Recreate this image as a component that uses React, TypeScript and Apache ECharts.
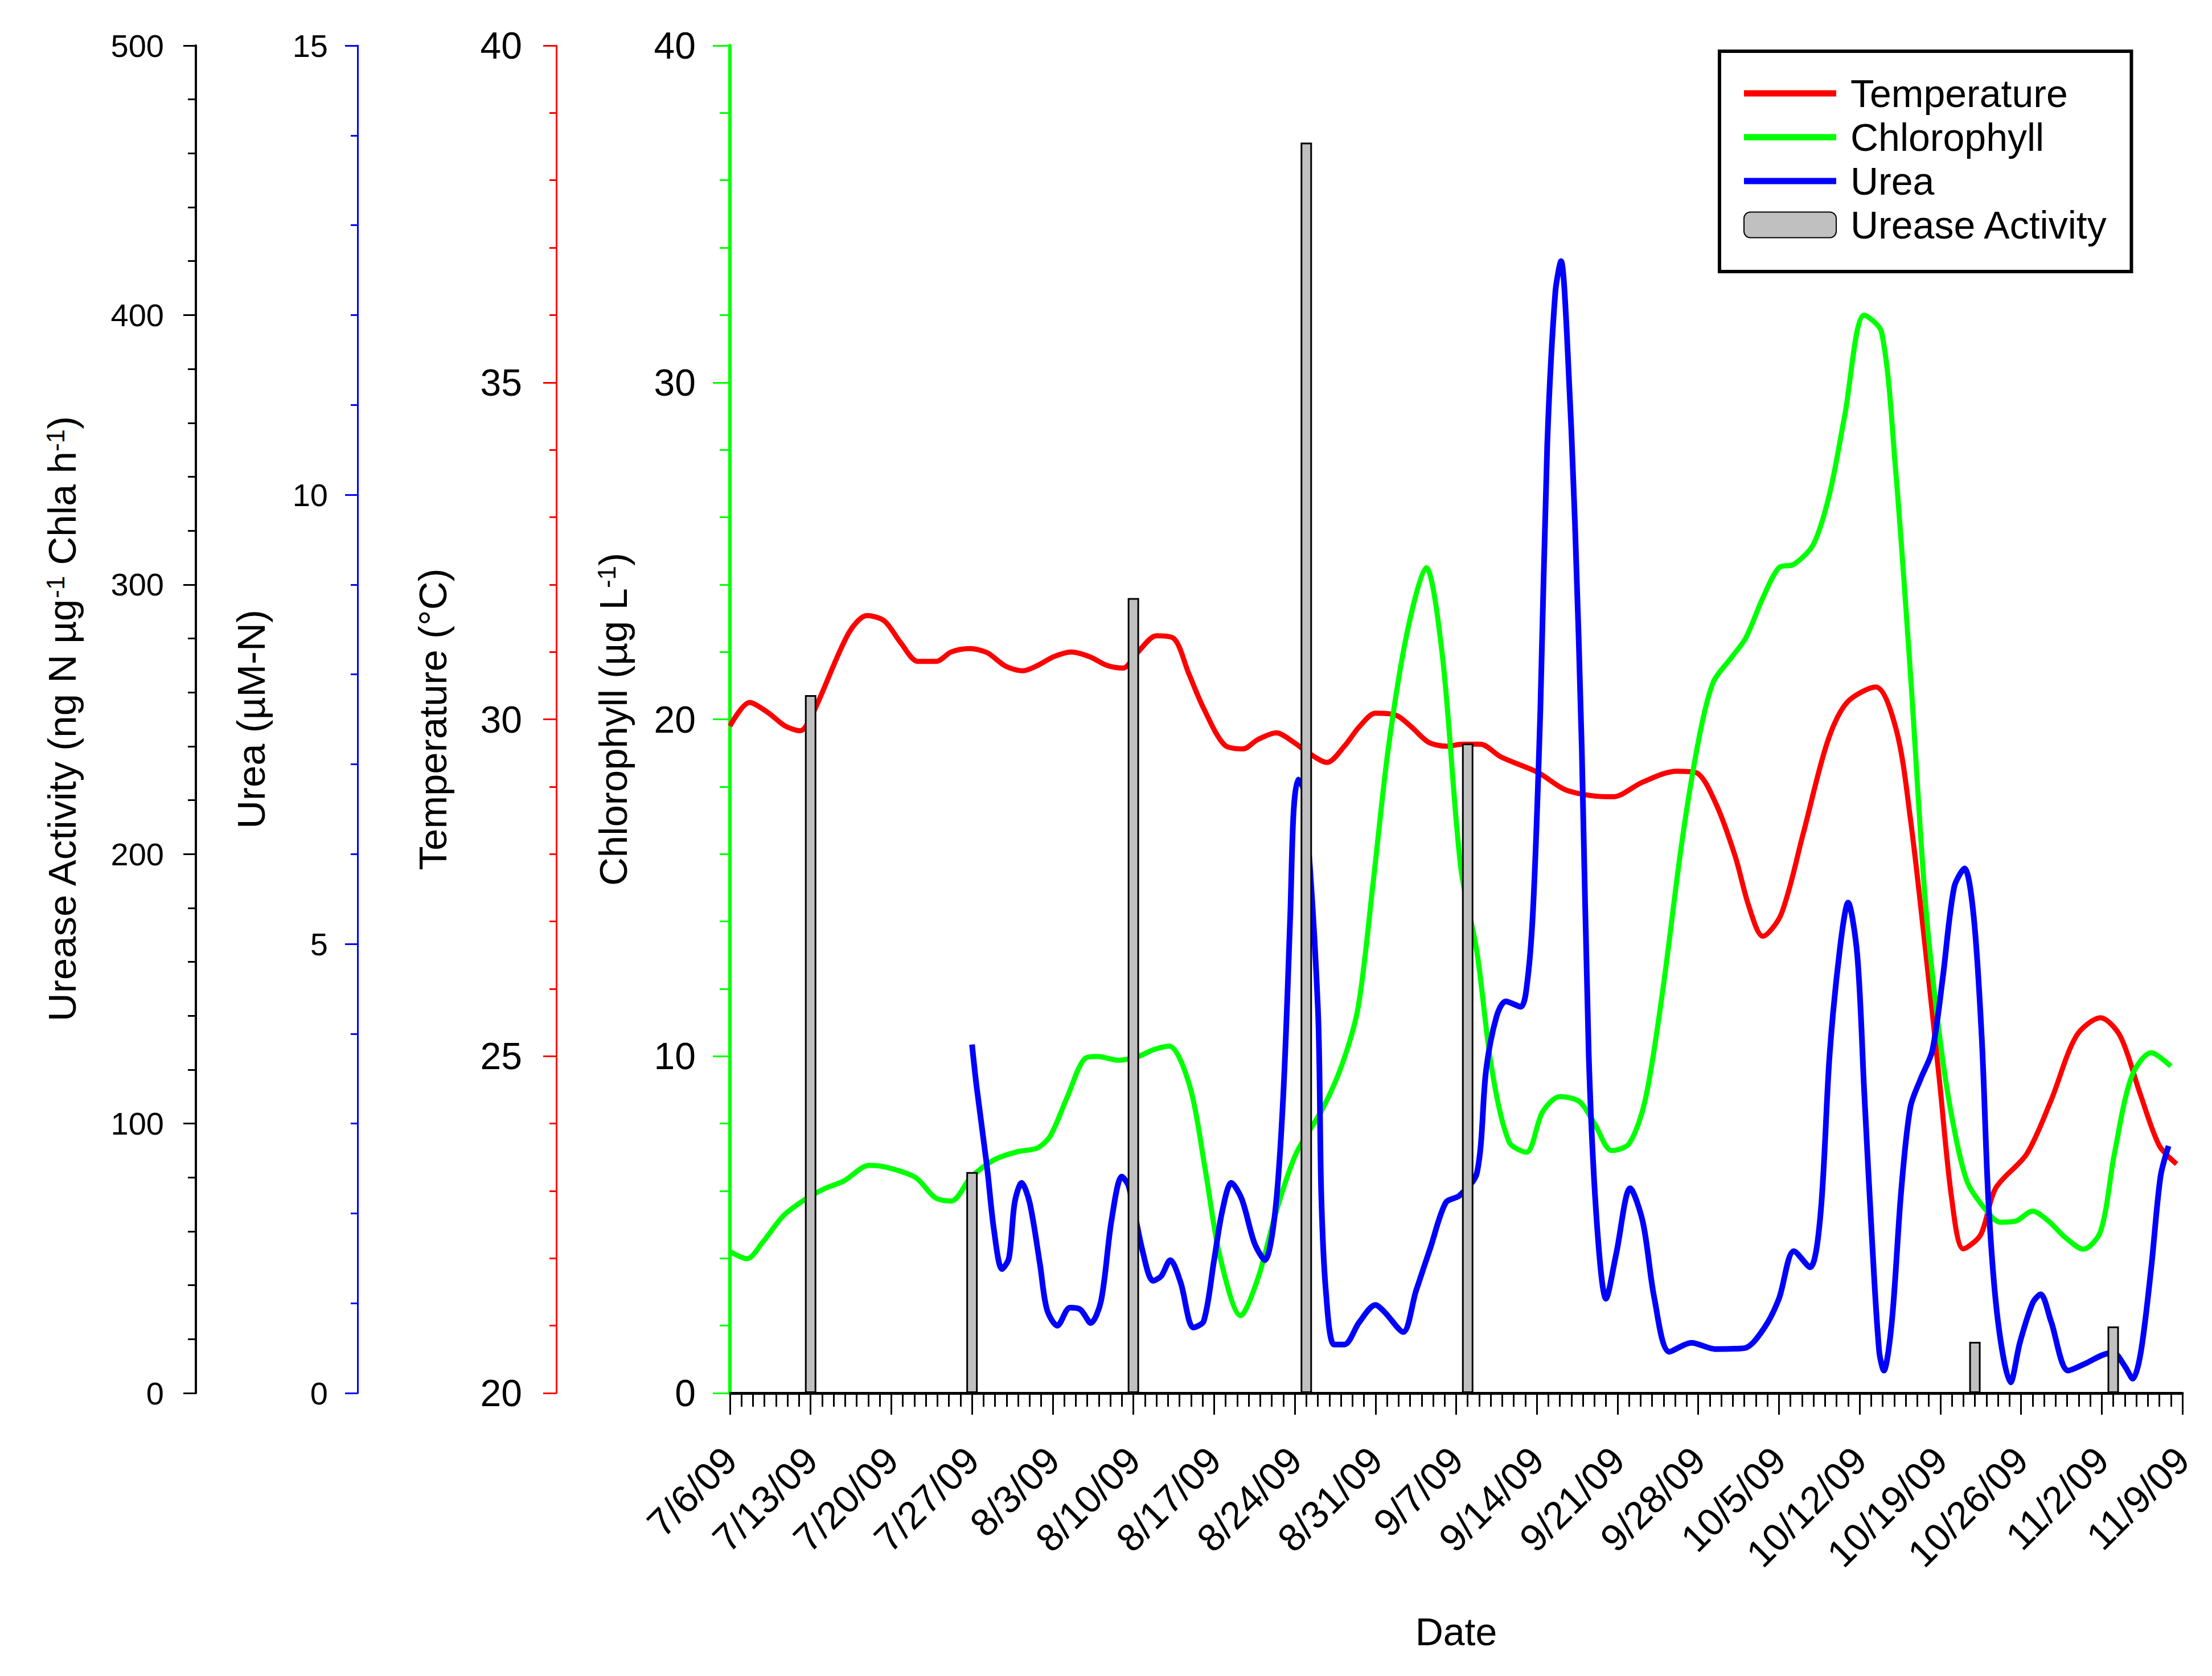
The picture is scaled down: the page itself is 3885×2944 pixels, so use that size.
import React, { useEffect, useRef } from "react";
import * as echarts from "echarts";

const FONT = "'Liberation Sans', Arial, sans-serif";

const xLabels = [
  "7/6/09", "7/13/09", "7/20/09", "7/27/09", "8/3/09", "8/10/09", "8/17/09",
  "8/24/09", "8/31/09", "9/7/09", "9/14/09", "9/21/09", "9/28/09", "10/5/09",
  "10/12/09", "10/19/09", "10/26/09", "11/2/09", "11/9/09",
];

// [day since 7/6/09, °C]
const temperature: [number, number][] = [
  [0, 29.9], [1.7, 30.25], [3.3, 30.1], [4.8, 29.9], [6.1, 29.83], [7.2, 30.09],
  [10.3, 31.28], [11.9, 31.54], [13.4, 31.46], [14.8, 31.14], [16.3, 30.86],
  [17.9, 30.86], [19.2, 31.0], [20.8, 31.05], [22.3, 30.99], [23.9, 30.79],
  [25.4, 30.72], [26.7, 30.8], [28.1, 30.93], [29.6, 31.0], [31.2, 30.93],
  [32.7, 30.8], [34.1, 30.76], [35.4, 31.0], [37.0, 31.24], [38.5, 31.2],
  [39.8, 30.68], [41.1, 30.16], [42.9, 29.62], [44.5, 29.56], [45.8, 29.7],
  [47.4, 29.8], [48.9, 29.66], [50.2, 29.5], [51.8, 29.36], [53.3, 29.6],
  [54.6, 29.89], [56, 30.09], [57.8, 30.06], [59.1, 29.89], [60.6, 29.66],
  [62.2, 29.6], [63.5, 29.63], [65.1, 29.63], [66.9, 29.44], [70.1, 29.21],
  [72.4, 28.96], [74.6, 28.87], [76.6, 28.85], [79.2, 29.07], [82.1, 29.23],
  [83.8, 29.21], [85.5, 28.76], [87.2, 27.97], [88.4, 27.22], [89.6, 26.78],
  [91.2, 27.11], [93.1, 28.3], [95.2, 29.66], [96.9, 30.25], [99.4, 30.48],
  [101.2, 29.83], [102.4, 28.53], [103.7, 26.6], [104.9, 24.68], [106, 22.87],
  [107, 22.14], [108.5, 22.35], [109.8, 23.04], [112.5, 23.55], [114.6, 24.34],
  [116.8, 25.3], [118.9, 25.57], [120.6, 25.3], [122.3, 24.46], [124, 23.67],
  [125.5, 23.4],
];

// [day, µg L-1]
const chlorophyll: [number, number][] = [
  [0, 4.2], [1.5, 3.99], [2.8, 4.46], [4.6, 5.25], [6.3, 5.7], [8.1, 6.05],
  [9.9, 6.3], [12.1, 6.76], [13.6, 6.7], [16.1, 6.4], [17.8, 5.8], [19.2, 5.7],
  [20.9, 6.4], [22.9, 6.92], [24.9, 7.16], [26.7, 7.28], [27.8, 7.64],
  [29.3, 8.82], [30.8, 9.93], [31.9, 9.99], [33.7, 9.88], [35.4, 9.99],
  [36.8, 10.2], [38.1, 10.3], [39.9, 9.1], [41.2, 6.7], [42.5, 4.07],
  [44.3, 2.3], [45.8, 3.4], [47.4, 5.4], [49.1, 7.1], [51.4, 8.43],
  [53.1, 9.75], [54.5, 11.46], [55.8, 15.16], [57.1, 19.1], [58.7, 22.5],
  [60.4, 24.5], [61.8, 21.9], [63.4, 15.6], [64.8, 13.1], [66.1, 9.6],
  [67.6, 7.45], [69.1, 7.15], [70.5, 8.35], [72, 8.8], [73.7, 8.65], [75, 8.0],
  [76.5, 7.2], [78, 7.4], [79.4, 8.7], [80.9, 11.9], [82.6, 16.4], [84.1, 19.5],
  [85.3, 21.1], [86.8, 21.8], [88.1, 22.4], [89.6, 23.6], [91, 24.5],
  [92.3, 24.6], [94, 25.2], [95.4, 26.7], [96.7, 29.0], [98.4, 32.0],
  [99.9, 31.5], [101.1, 27.5], [102.4, 21.4], [103.7, 14.6], [104.9, 10.7],
  [106, 8.2], [107.3, 6.3], [108.8, 5.5], [110.2, 5.07], [111.5, 5.1],
  [113, 5.4], [114.4, 5.1], [115.9, 4.6], [117.4, 4.27], [118.9, 4.8],
  [120.1, 7.1], [121.6, 9.4], [123.3, 10.1], [125, 9.7],
];

// [day, µM-N]
const urea: [number, number][] = [
  [21.0, 3.88], [21.4, 3.41], [22.3, 2.52], [22.9, 1.82], [23.6, 1.38],
  [24.2, 1.5], [24.7, 2.12], [25.3, 2.34], [26, 2.12], [26.9, 1.43],
  [27.5, 0.93], [28.4, 0.75], [29.5, 0.95], [30.4, 0.93], [31.3, 0.78],
  [32.2, 1.03], [33.1, 1.92], [34, 2.41], [34.6, 2.3], [35.8, 1.58],
  [36.7, 1.25], [37.4, 1.3], [38.2, 1.48], [39.1, 1.23], [40.2, 0.73],
  [41.1, 0.8], [42, 1.48], [42.7, 2.02], [43.5, 2.34], [44.4, 2.16],
  [45.5, 1.67], [46.4, 1.48], [47.3, 2.02], [48, 3.31], [48.6, 5.29],
  [48.9, 6.48], [49.3, 6.83], [49.8, 6.7], [51, 4.3], [51.3, 2.2],
  [51.7, 1.13], [52.4, 0.54], [53.3, 0.54], [54.6, 0.79], [56, 0.98],
  [56.8, 0.9], [58.4, 0.68], [59.5, 1.13], [60.8, 1.63], [62.1, 2.12],
  [63.3, 2.2], [64.8, 2.45], [65.6, 3.6], [66.5, 4.19], [67.3, 4.36],
  [68.6, 4.3], [69.2, 4.61], [69.7, 5.46], [70.3, 7.59], [70.9, 10.55],
  [71.6, 12.25], [72.1, 12.6], [72.6, 11.8], [73.3, 9.7], [73.9, 7.16],
  [74.5, 3.77], [75.2, 1.9], [76, 1.05], [76.9, 1.56], [78.1, 2.28],
  [79.2, 1.9], [80.2, 1.05], [81.5, 0.46], [83.4, 0.56], [85.5, 0.49],
  [88, 0.5], [89.7, 0.72], [91, 1.05], [92.3, 1.58], [93.7, 1.4],
  [94.6, 1.98], [95.4, 3.77], [96.3, 4.96], [97, 5.46], [97.8, 4.87],
  [98.4, 3.35], [99.1, 1.65], [99.7, 0.46], [100.1, 0.25], [100.8, 0.8],
  [101.6, 2.24], [102.4, 3.18], [103.3, 3.5], [104.3, 3.81], [105.2, 4.61],
  [106.2, 5.63], [107.1, 5.84], [107.9, 5.3], [108.6, 3.94], [109.2, 2.07],
  [110, 0.8], [111.1, 0.12], [111.9, 0.56], [113, 1.0], [113.7, 1.1],
  [114.6, 0.8], [116.1, 0.25], [117.6, 0.33], [119, 0.42], [120, 0.45],
  [121, 0.3], [121.7, 0.16], [122.4, 0.46], [123.3, 1.4], [124.1, 2.41],
  [124.8, 2.75],
];

// [day, ng N µg-1 Chla h-1]
const ureaseActivity: [number, number][] = [
  [7, 259], [21, 82], [35, 295], [50, 464], [64, 241], [108, 19], [120, 24.7],
];

// legend line swatch: thin bar centred in a 162 x 45 box
const LINE_ICON = "path://M0,0 L0,0 M0,17 L162,17 L162,28 L0,28 Z M162,45 L162,45";

const tickFont = { fontFamily: FONT, color: "#000" };

function makeYAxis(opts: {
  name: string;
  min: number;
  max: number;
  interval: number;
  offset: number;
  color: string;
  lineWidth: number;
  tickLen: number;
  minorLen: number;
  labelSize: number;
  labelMargin: number;
  nameGap: number;
}) {
  return {
    type: "value",
    position: "left",
    offset: opts.offset,
    min: opts.min,
    max: opts.max,
    interval: opts.interval,
    name: opts.name,
    nameLocation: "middle",
    nameRotate: 90,
    nameGap: opts.nameGap,
    nameTextStyle: {
      fontFamily: FONT,
      fontSize: 69,
      color: "#000",
      rich: {
        sup: { fontFamily: FONT, fontSize: 44, color: "#000", verticalAlign: "top", lineHeight: 44 },
      },
    },
    axisLine: { show: true, lineStyle: { color: opts.color, width: opts.lineWidth } },
    axisTick: { show: true, length: opts.tickLen, lineStyle: { color: opts.color, width: 3 } },
    minorTick: { show: true, splitNumber: 5, length: opts.minorLen, lineStyle: { color: opts.color, width: 3 } },
    axisLabel: { ...tickFont, fontSize: opts.labelSize, margin: opts.labelMargin },
    splitLine: { show: false },
    minorSplitLine: { show: false },
  };
}

export default function App() {
  const ref = useRef<HTMLDivElement>(null);

  useEffect(() => {
    document.body.style.margin = "0";
    if (!ref.current) return;
    const chart = echarts.init(ref.current, null, { renderer: "svg" });

    const option = {
      animation: false,
      backgroundColor: "#fff",
      grid: { left: 1282, right: 52, top: 80, bottom: 497, containLabel: false, outerBoundsMode: "none" },
      legend: {
        orient: "vertical",
        left: 3020,
        top: 90,
        padding: [40, 40, 48, 42],
        backgroundColor: "#fff",
        borderColor: "#000",
        borderWidth: 6,
        itemWidth: 162,
        itemHeight: 45,
        itemGap: 9,
        textStyle: { fontFamily: FONT, fontSize: 68, color: "#000", padding: [0, 0, 0, 20] },
        data: [
          { name: "Temperature", icon: LINE_ICON, itemStyle: { borderWidth: 0 } },
          { name: "Chlorophyll", icon: LINE_ICON, itemStyle: { borderWidth: 0 } },
          { name: "Urea", icon: LINE_ICON, itemStyle: { borderWidth: 0 } },
          { name: "Urease Activity", icon: "roundRect" },
        ],
      },
      xAxis: {
        type: "value",
        min: 0,
        max: 126,
        interval: 7,
        name: "Date",
        nameLocation: "middle",
        nameGap: 385,
        nameTextStyle: { fontFamily: FONT, fontSize: 68, color: "#000" },
        axisLine: { show: true, onZero: false, lineStyle: { color: "#000", width: 5 } },
        axisTick: { show: true, length: 38, lineStyle: { color: "#000", width: 3 } },
        minorTick: { show: true, splitNumber: 7, length: 24, lineStyle: { color: "#000", width: 3 } },
        axisLabel: {
          ...tickFont,
          fontSize: 68,
          rotate: 45,
          margin: 106,
          formatter: (v: number) => xLabels[Math.round(v / 7)] ?? "",
        },
        splitLine: { show: false },
        minorSplitLine: { show: false },
      },
      yAxis: [
        makeYAxis({
          name: "Chlorophyll (µg L{sup|-1})",
          min: 0, max: 40, interval: 10, offset: 0, color: "#00ff00", lineWidth: 6,
          tickLen: 30, minorLen: 18, labelSize: 66, labelMargin: 60, nameGap: 170,
        }),
        makeYAxis({
          name: "Temperature (°C)",
          min: 20, max: 40, interval: 5, offset: 305, color: "#ff0000", lineWidth: 3,
          tickLen: 23, minorLen: 12, labelSize: 66, labelMargin: 60, nameGap: 182,
        }),
        makeYAxis({
          name: "Urea (µM-N)",
          min: 0, max: 15, interval: 5, offset: 654, color: "#0000ff", lineWidth: 3,
          tickLen: 22, minorLen: 12, labelSize: 56, labelMargin: 52, nameGap: 152,
        }),
        makeYAxis({
          name: "Urease Activity (ng N µg{sup|-1} Chla h{sup|-1})",
          min: 0, max: 500, interval: 100, offset: 938, color: "#000000", lineWidth: 4,
          tickLen: 22, minorLen: 14, labelSize: 56, labelMargin: 56, nameGap: 200,
        }),
      ],
      series: [
        {
          name: "Temperature",
          type: "line",
          yAxisIndex: 1,
          data: temperature,
          smooth: 0.3,
          symbol: "none",
          color: "#ff0000",
          lineStyle: { color: "#ff0000", width: 9 },
          z: 2,
        },
        {
          name: "Chlorophyll",
          type: "line",
          yAxisIndex: 0,
          data: chlorophyll,
          smooth: 0.3,
          symbol: "none",
          color: "#00ff00",
          lineStyle: { color: "#00ff00", width: 9 },
          z: 2,
        },
        {
          name: "Urea",
          type: "line",
          yAxisIndex: 2,
          data: urea,
          smooth: 0.3,
          symbol: "none",
          color: "#0000ff",
          lineStyle: { color: "#0000ff", width: 10 },
          z: 2,
        },
        {
          name: "Urease Activity",
          type: "bar",
          yAxisIndex: 3,
          data: ureaseActivity,
          barWidth: 20,
          color: "#c0c0c0",
          itemStyle: { color: "#c0c0c0", borderColor: "#000", borderWidth: 3 },
          z: 5,
        },
      ],
    };

    chart.setOption(option as any);
    return () => chart.dispose();
  }, []);

  return <div ref={ref} style={{ width: 3885, height: 2944 }} />;
}
